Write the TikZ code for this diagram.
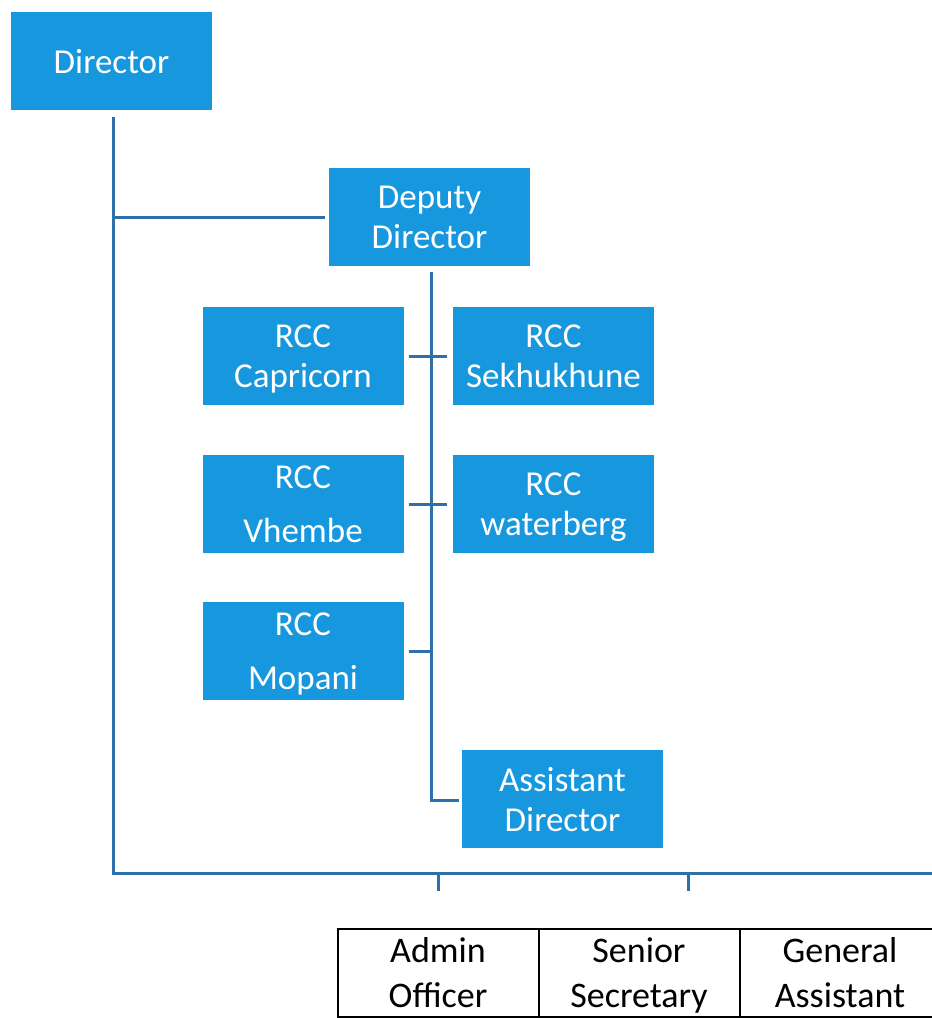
\documentclass[tikz,border=0pt]{standalone}
\usepackage{fontspec}
\setmainfont{Carlito}
\definecolor{boxblue}{RGB}{22,151,222}
\definecolor{linkblue}{RGB}{48,112,170}
\tikzset{
  unit/.style={fill=boxblue, text=white, minimum width=201pt, minimum height=98pt,
    inner sep=0pt, align=center, text depth=0pt, font=\fontsize{35}{40}\selectfont},
  cell/.style={draw=black, line width=2pt, minimum width=201pt, minimum height=88pt,
    inner sep=0pt, align=center, text depth=0pt, font=\fontsize{36}{45}\selectfont},
  link/.style={draw=linkblue, line width=3pt}
}
\begin{document}
\begin{tikzpicture}[x=1pt, y=-1pt]
\useasboundingbox (0,0) rectangle (932,1018);
\clip (0,0) rectangle (932,1018);

% blue units (zero text depth keeps descenders from shifting the text)
\node[unit] (dir)  at (111.5,61)  {Director};
\node[unit] (dep)  at (429.5,217) {Deputy\\Director};
\node[unit] (cap)  at (303,356)   {RCC\\Capricorn};
\node[unit] (sek)  at (553.5,356) {RCC\\Sekhukhune};
\node[unit] (vhe)  at (303,504)   {RCC\\[14pt]Vhembe};
\node[unit] (wat)  at (553.5,504) {RCC\\waterberg};
\node[unit] (mop)  at (303,651)   {RCC\\[14pt]Mopani};
\node[unit] (asd)  at (562.5,799) {Assistant\\Director};

% support staff row
\node[cell] (adm) at (438,972.5) {Admin\\Officer};
\node[cell] (sec) at (639,972.5) {Senior\\Secretary};
\node[cell] (gen) at (840,972.5) {General\\Assistant};

% junction points
\coordinate (dtop) at (113,117);
\coordinate (dbend) at (113,873);
\coordinate (dend) at (940,873);
\coordinate (ddep) at (113,217);
\coordinate (vtop) at (431,272);
\coordinate (vbot) at (431,800);
\coordinate (vmop) at (431,651);
\coordinate (tka) at (438,873);
\coordinate (tkb) at (688,873);

% connectors
\draw[link] (dtop) -- (dbend) -- (dend);
\draw[link] (ddep) -- ([xshift=-4pt]dep.west |- ddep);
\draw[link] (vtop) -- (vbot) -- ([xshift=-3pt]asd.west |- vbot);
\draw[link, shorten <=5pt, shorten >=6pt] (cap.east) -- (sek.west);
\draw[link, shorten <=5pt, shorten >=6pt] (vhe.east) -- (wat.west);
\draw[link, shorten <=5pt] (mop.east) -- (vmop);
\draw[link] (tka) -- ++(0,18);
\draw[link] (tkb) -- ++(0,18);
\end{tikzpicture}
\end{document}
